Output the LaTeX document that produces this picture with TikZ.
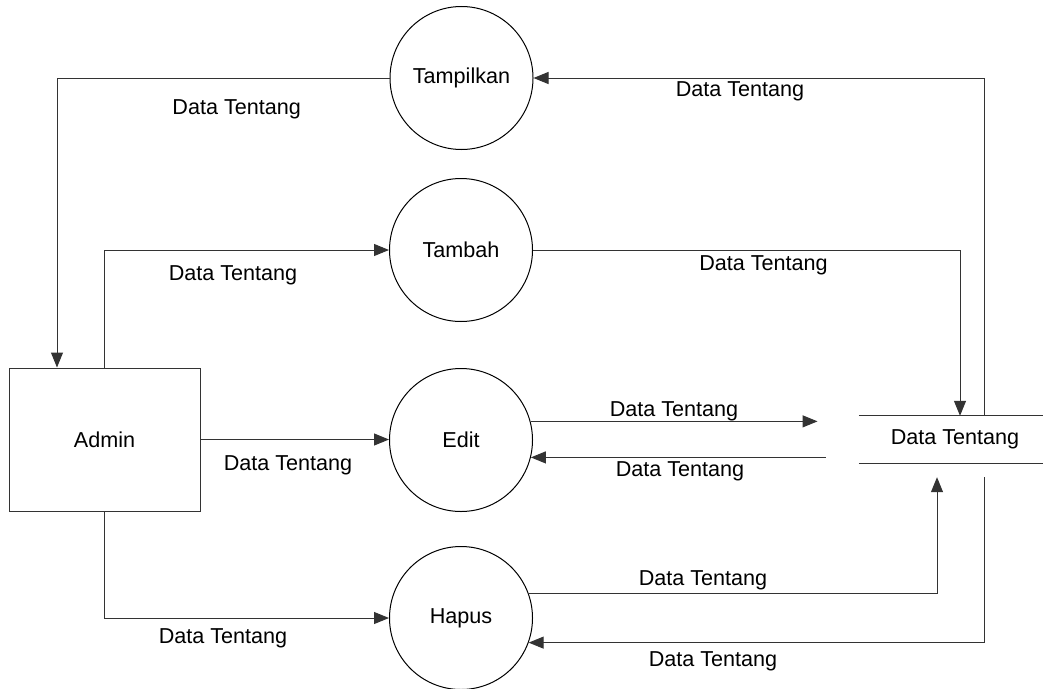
\documentclass[tikz,border=0pt]{standalone}
\usepackage{fontspec}
\setmainfont{Liberation Sans}
\usetikzlibrary{arrows.meta,calc}
\begin{document}
\begin{tikzpicture}[x=1pt,y=-1pt,
  every node/.style={font=\fontsize{21.6}{26}\selectfont},
  proc/.style={draw=black,line width=1pt,circle,minimum size=143pt,inner sep=0pt},
  entity/.style={draw=black!80,line width=1pt,rectangle,minimum width=191pt,minimum height=143pt,inner sep=0pt},
  store/.style={rectangle,minimum width=184pt,minimum height=47pt,inner sep=0pt},
  flow/.style={draw=black!80,line width=1pt,-{Triangle[length=15pt,width=12pt]}},
  link/.style={draw=black!80,line width=1pt},
  lbl/.style={anchor=base,inner sep=0pt}]
\useasboundingbox[fill=white] (0,0) rectangle (1043,688);

% processes
\node[proc] (tampil) at (461.5,78) {Tampilkan};
\node[proc] (tambah) at (461,250) {Tambah};
\node[proc] (edit) at (461,440) {Edit};
\node[proc] (hapus) at (461,618) {Hapus};

% entity
\node[entity] (admin) at (104.5,439.5) {Admin};

% data store
\node[store] (store) at (951,439.5) {\hspace*{8pt}Data Tentang};
\draw[link] (store.north west) -- (store.north east);
\draw[link] (store.south west) -- (store.south east);

% free ends
\coordinate (e1) at ($(edit.15)+(287,0)$);
\coordinate (e2) at ($(edit.-14)+(295,0)$);

% flows
\draw[flow] (tampil.west) -| ([xshift=-47.5pt]admin.north);
\draw[flow] ([xshift=33pt]store.north) |- (tampil.east);
\draw[flow] (admin.north) |- (tambah.west);
\draw[flow] (tambah.east) -| ([xshift=9pt]store.north);
\draw[flow] (admin.east) -- (admin.east -| edit.west);
\draw[flow] (edit.15) -- (e1);
\draw[flow] (e2) -- (edit.-14);
\draw[flow] (hapus.20) -| ([xshift=-14pt,yshift=-14pt]store.south);
\draw[flow] ([xshift=33pt,yshift=-14pt]store.south) |- (hapus.-20);
\draw[flow] (admin.south) |- (hapus.west);

% labels
\node[lbl] (l1) at (236.7,114.2) {Data Tentang};
\node[lbl] (l2) at (740,96.5) {Data Tentang};
\node[lbl] (l3) at (233,280.5) {Data Tentang};
\node[lbl] (l4) at (763.5,270.2) {Data Tentang};
\node[lbl] (l5) at (674,416.5) {Data Tentang};
\node[lbl] (l6) at (680,476.5) {Data Tentang};
\node[lbl] (l7) at (288,470.5) {Data Tentang};
\node[lbl] (l8) at (223,643.5) {Data Tentang};
\node[lbl] (l9) at (703,585.5) {Data Tentang};
\node[lbl] (l10) at (713,666.5) {Data Tentang};
\end{tikzpicture}
\end{document}
